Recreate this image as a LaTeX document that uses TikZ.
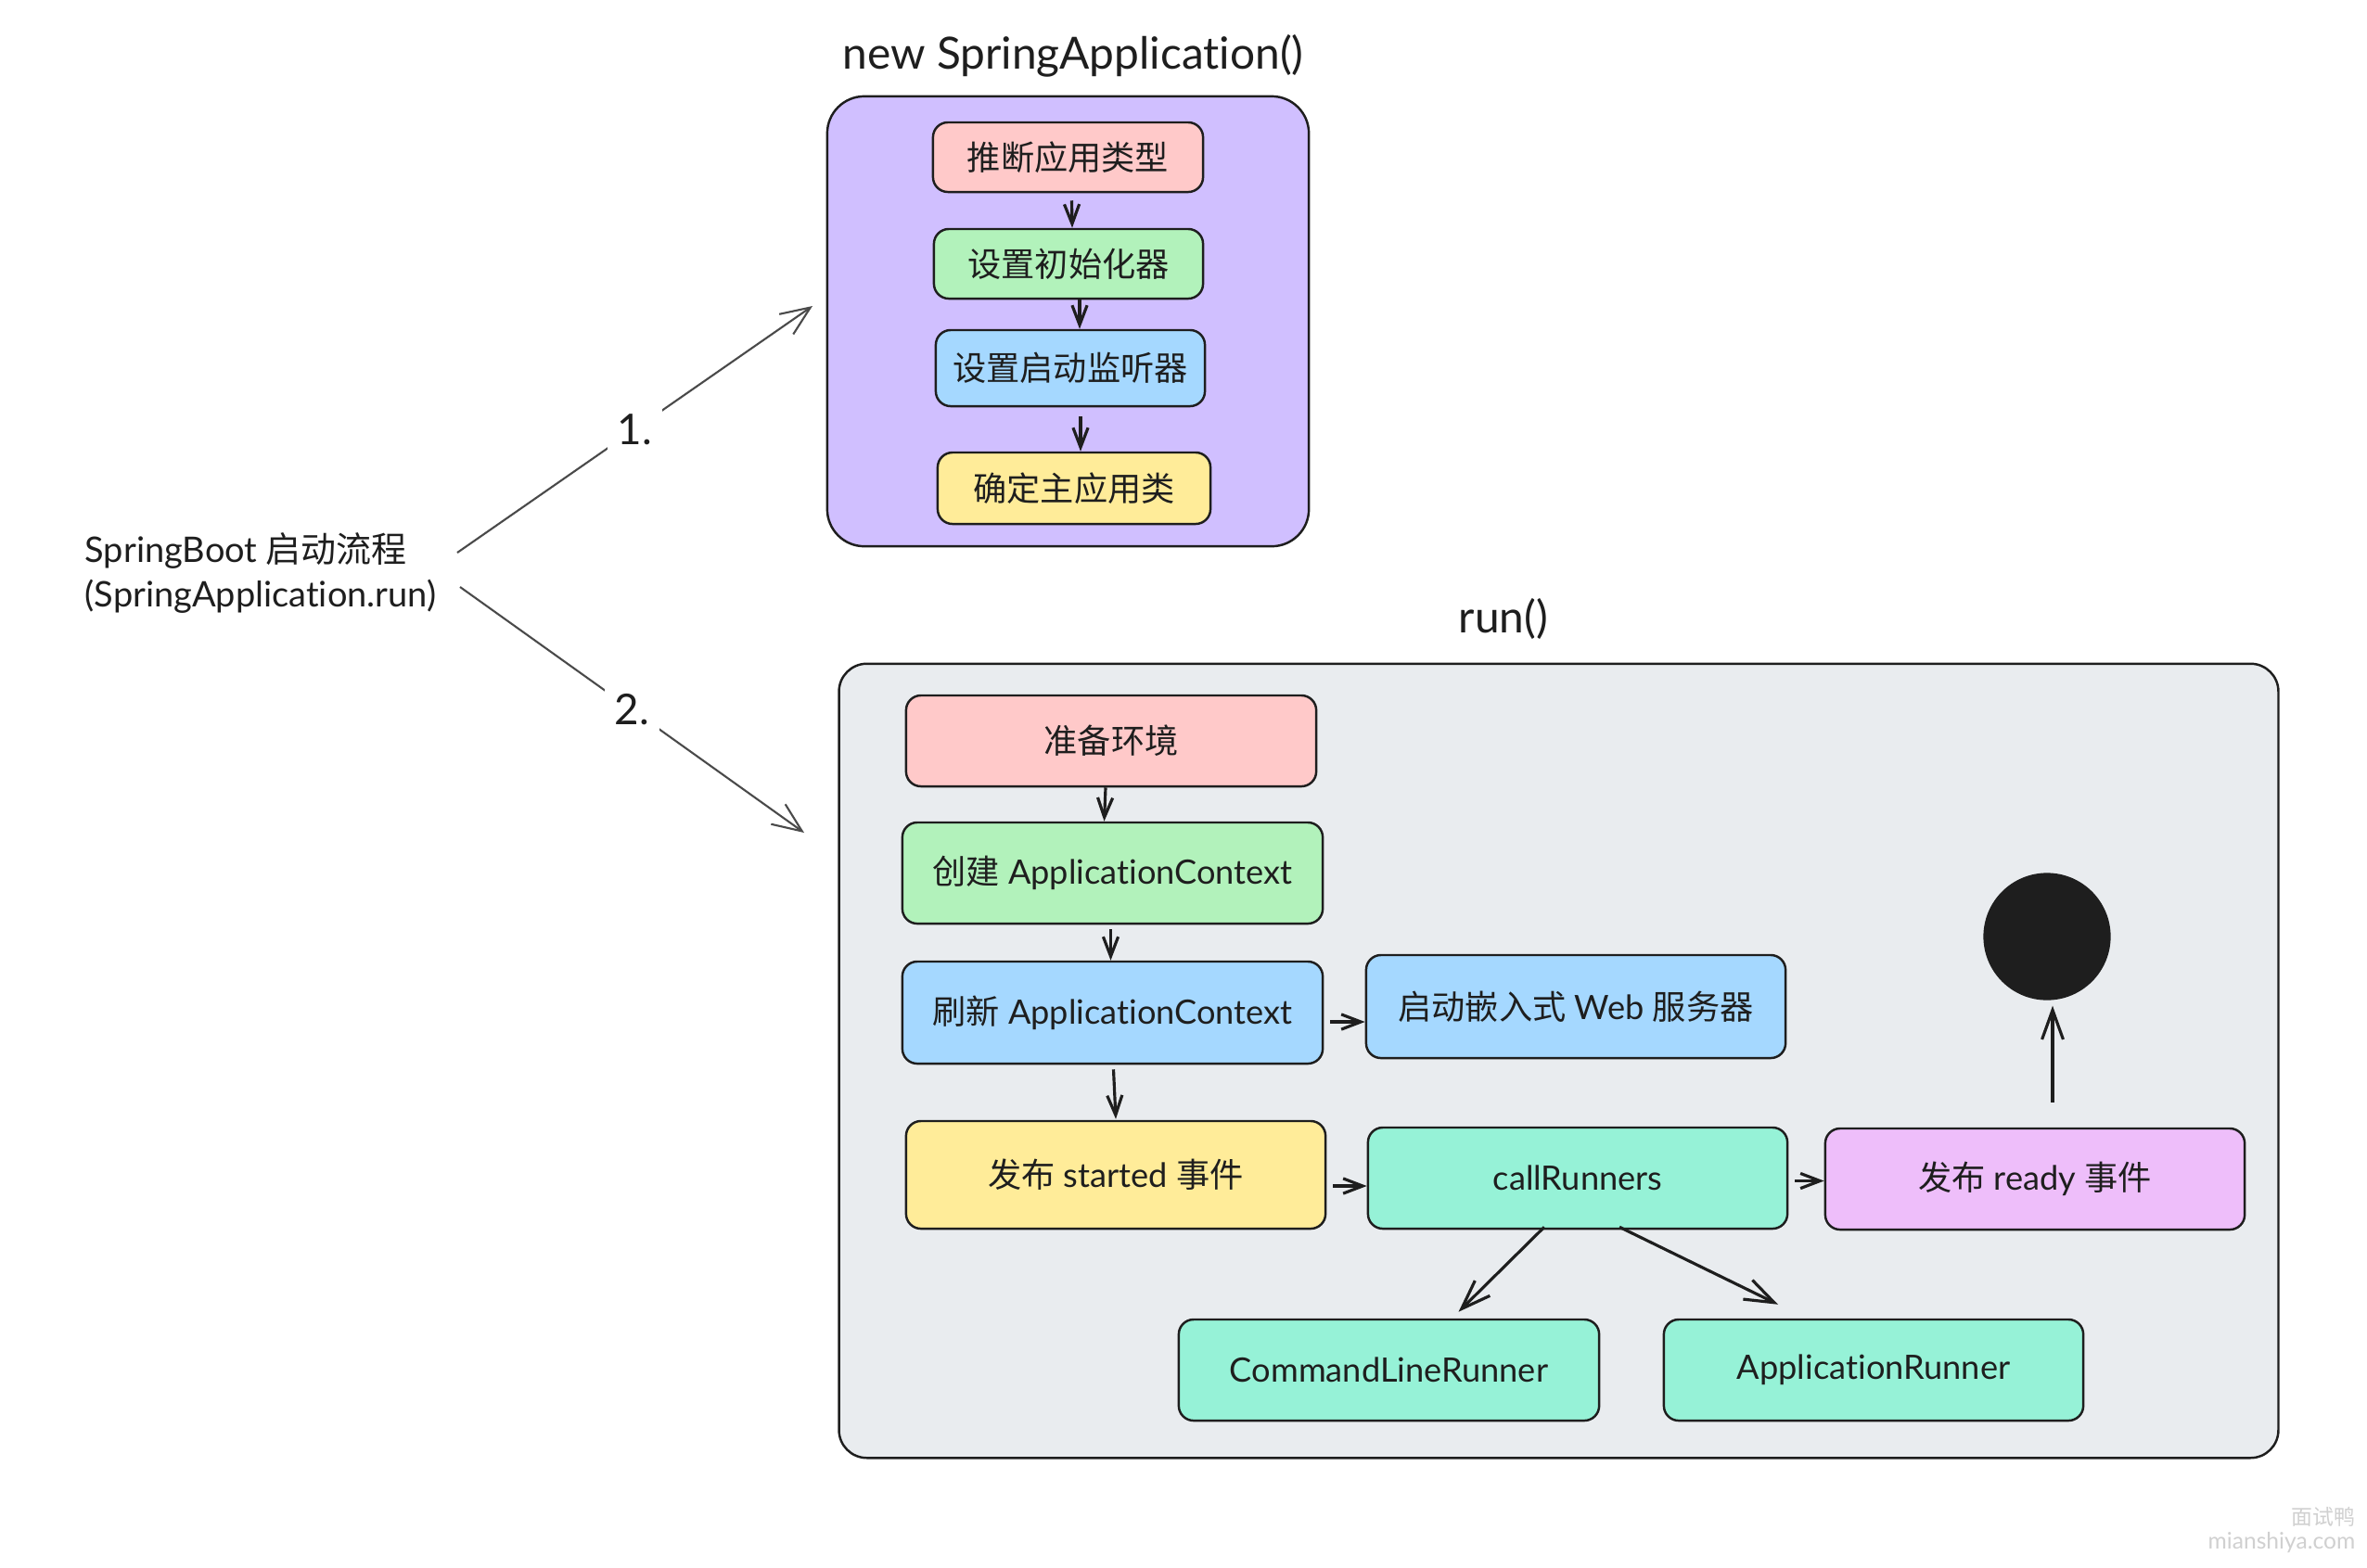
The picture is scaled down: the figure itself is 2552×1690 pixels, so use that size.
\documentclass[tikz,border=0pt]{standalone}
\usepackage{fontspec}
\setmainfont{Lato}[Ligatures=NoCommon]
\newfontfamily\cjk{Noto Sans CJK SC}
\usetikzlibrary{arrows.meta,calc}
\definecolor{ink}{HTML}{1E1E1E}
\definecolor{cpink}{HTML}{FFC9C9}
\definecolor{cgreen}{HTML}{B2F2BB}
\definecolor{cblue}{HTML}{A5D8FF}
\definecolor{cyellow}{HTML}{FFEC99}
\definecolor{cteal}{HTML}{96F2D7}
\definecolor{cviolet}{HTML}{EEBEFA}
\definecolor{cpurple}{HTML}{D0BFFF}
\definecolor{cgray}{HTML}{E9ECEF}
\definecolor{cline}{HTML}{4A4A4A}
\definecolor{wm}{HTML}{D0D0D0}
\begin{document}
\begin{tikzpicture}[x=0.01cm,y=-0.01cm,
  box/.style={draw=ink, line width=0.7pt, rounded corners=0.16cm, align=center, inner sep=0pt, text=ink, font=\fontsize{10.3pt}{12pt}\selectfont},
  cont/.style={draw=ink, line width=0.7pt, inner sep=0pt},
  arr/.style={draw=ink, line width=0.9pt, -{Straight Barb[length=6pt,width=4.6pt,line width=0.9pt]}},
  barr/.style={draw=ink, line width=0.9pt, -{Straight Barb[length=9pt,width=6.5pt,line width=0.9pt]}},
  farr/.style={draw=cline, line width=0.6pt, -{Straight Barb[length=9pt,width=7.5pt,line width=0.6pt]}},
  ttl/.style={text=ink, font=\fontsize{13.6pt}{16pt}\selectfont, inner sep=0pt},
  num/.style={fill=white, text=ink, font=\fontsize{13pt}{15pt}\selectfont, inner sep=3pt},
]
\useasboundingbox (0,0) rectangle (2552,1690);
\fill[white] (0,0) rectangle (2552,1690);

% containers
\node[cont, fill=cpurple, rounded corners=0.4cm, minimum width=5.19cm, minimum height=4.85cm] (newbox) at (1151.5,346.5) {};
\node[cont, fill=cgray, rounded corners=0.3cm, minimum width=15.51cm, minimum height=8.56cm] (runbox) at (1680.5,1144) {};
\node[ttl] (newtitle) at (1157,60) {new SpringApplication()};
\node[ttl] (runtitle) at (1621,667) {run()};

% left entry text
\node[anchor=west, align=left, text=ink, inner sep=0pt, font=\fontsize{10.8pt}{13.9pt}\selectfont] (entry) at (91,618) {SpringBoot {\cjk 启动流程}\\(SpringApplication.run)};

% new SpringApplication() steps
\node[box, fill=cpink, minimum width=2.91cm, minimum height=0.75cm] (n1) at (1151.5,169.5) {\cjk 推断应用类型};
\node[box, fill=cgreen, minimum width=2.90cm, minimum height=0.75cm] (n2) at (1152,284.5) {\cjk 设置初始化器};
\node[box, fill=cblue, minimum width=2.90cm, minimum height=0.82cm] (n3) at (1154,397) {\cjk 设置启动监听器};
\node[box, fill=cyellow, minimum width=2.94cm, minimum height=0.77cm] (n4) at (1158,526.5) {\cjk 确定主应用类};

% run() steps
\node[box, fill=cpink, minimum width=4.42cm, minimum height=0.98cm] (prep) at (1198,799) {\cjk 准备环境};
\node[box, fill=cgreen, minimum width=4.53cm, minimum height=1.09cm] (create) at (1199.5,941.5) {{\cjk 创建} ApplicationContext};
\node[box, fill=cblue, minimum width=4.53cm, minimum height=1.10cm] (refresh) at (1199.5,1092) {{\cjk 刷新} ApplicationContext};
\node[box, fill=cblue, minimum width=4.52cm, minimum height=1.11cm] (web) at (1699,1085.5) {{\cjk 启动嵌入式} Web {\cjk 服务器}};
\node[box, fill=cyellow, minimum width=4.52cm, minimum height=1.16cm] (started) at (1203,1267) {{\cjk 发布} started {\cjk 事件}};
\node[box, fill=cteal, minimum width=4.52cm, minimum height=1.09cm] (callr) at (1701,1270.5) {callRunners};
\node[box, fill=cviolet, minimum width=4.52cm, minimum height=1.09cm] (ready) at (2194,1271.5) {{\cjk 发布} ready {\cjk 事件}};
\node[box, fill=cteal, minimum width=4.53cm, minimum height=1.09cm] (clr) at (1497.5,1477.5) {CommandLineRunner};
\node[box, fill=cteal, minimum width=4.52cm, minimum height=1.09cm] (apr) at (2020,1477.5) {ApplicationRunner};
\node[circle, draw=ink, line width=0.9pt, fill=ink, minimum size=1.34cm, inner sep=0pt] (endc) at (2207,1010) {};

% arrows inside new SpringApplication()
\draw[arr] ($(n1.south)+(4,8)$) -- ($(n2.north)+(4,0)$);
\draw[arr] ($(n2.south)+(12,0)$) -- ($(n3.north)+(10,0)$);
\draw[arr] ($(n3.south)+(11,10)$) -- ($(n4.north)+(7,0)$);

% arrows inside run()
\draw[arr] ($(prep.south)+(-6,0)$) -- ($(create.north)+(-9,0)$);
\draw[arr] ($(create.south)+(-2,5)$) -- ($(refresh.north)+(-2,0)$);
\draw[arr] ($(refresh.south)+(1,5)$) -- ($(started.north)+(0,-1)$);
\draw[arr, shorten <=2pt] ($(refresh.east)+(0,10)$) -- ($(web.west |- refresh.east)+(0,10)$);
\draw[arr, shorten <=2pt] ($(started.east)+(0,12)$) -- ($(callr.west |- started.east)+(0,12)$);
\draw[arr, shorten <=2pt] ($(callr.east)+(0,3)$) -- ($(ready.west |- callr.east)+(0,3)$);
\draw[barr] ($(ready.north)+(19,-27)$) -- ($(endc.south)+(6,6)$);
\draw[barr] ($(callr.south)+(-36,-3)$) -- ($(clr.north)+(75,-7)$);
\draw[barr] ($(callr.south)+(45,-3)$) -- ($(apr.north)+(-103,-15)$);

% arrows from the entry text
\coordinate (a1s) at (493,596);
\coordinate (a1e) at (876,330);
\coordinate (a2s) at (496,633);
\coordinate (a2e) at (867,898);
\draw[farr] (a1s) -- node[num] {1.} (a1e);
\draw[farr] (a2s) -- node[num] {2.} (a2e);

% watermark
\node[anchor=east, text=wm, inner sep=0pt, font=\fontsize{6.5pt}{8pt}\selectfont\cjk] (wm1) at (2540,1636) {面试鸭};
\node[anchor=east, text=wm, inner sep=0pt, font=\fontsize{7pt}{8pt}\selectfont] (wm2) at (2540,1664) {mianshiya.com};
\end{tikzpicture}
\end{document}
